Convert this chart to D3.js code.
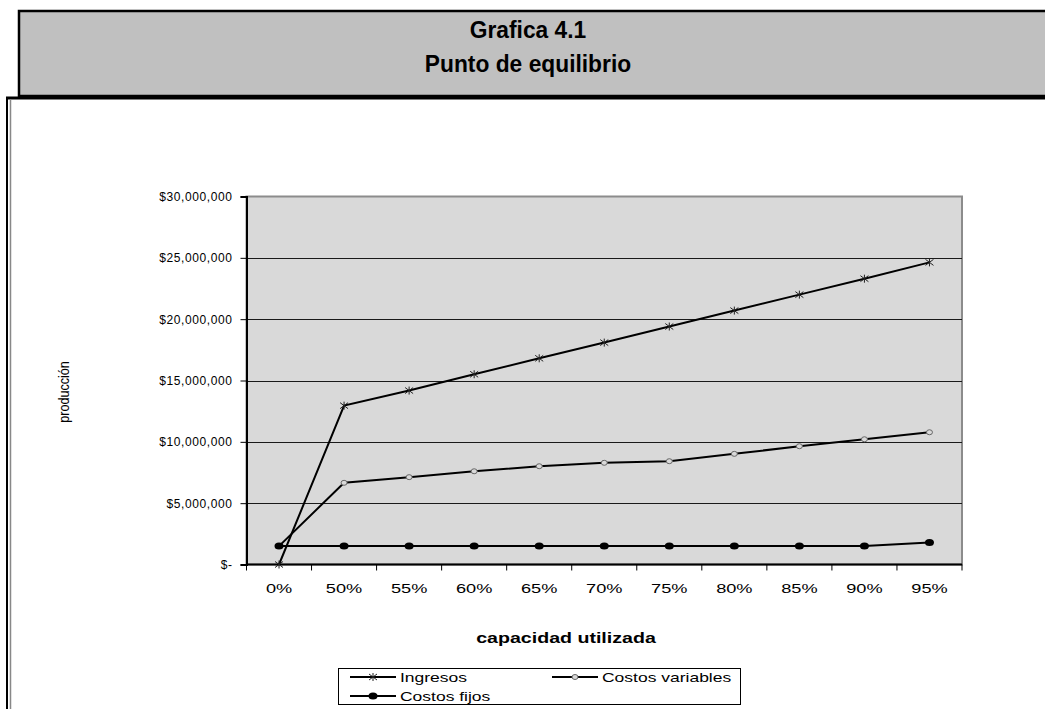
<!DOCTYPE html>
<html>
<head>
<meta charset="utf-8">
<script src="https://cdn.jsdelivr.net/npm/d3@7"></script>
<style>
  body { margin: 0; background: #fff; }
  svg { display: block; font-family: "Liberation Sans", Arial, sans-serif; }
</style>
</head>
<body>
<div id="grafica"></div>
<script>
// datos
const categorias = ["0%", "50%", "55%", "60%", "65%", "70%", "75%", "80%", "85%", "90%", "95%"];
const ingresos = [0, 12950000, 14180000, 15510000, 16810000, 18090000, 19400000, 20700000, 22000000, 23300000, 24630000];
const costosVariables = [1500000, 6660000, 7120000, 7600000, 8010000, 8290000, 8420000, 9020000, 9640000, 10210000, 10780000];
const costosFijos = [1500000, 1500000, 1500000, 1500000, 1500000, 1500000, 1500000, 1500000, 1500000, 1500000, 1790000];
const ticksY = [0, 5000000, 10000000, 15000000, 20000000, 25000000, 30000000];
const nombresSeries = ["Ingresos", "Costos variables", "Costos fijos"];

const estirar = 1.4; // el grafico original esta estirado a lo ancho

function marcador(g, tipo, cx, cy) {
    if (tipo === "Ingresos") {
        g.append("path")
            .attr("d", `M${cx - 4},${cy - 3}L${cx + 4},${cy + 3}M${cx - 4},${cy + 3}L${cx + 4},${cy - 3}M${cx},${cy - 4}L${cx},${cy + 4}`)
            .attr("stroke", "#222").attr("stroke-width", 1).attr("fill", "none");
    } else if (tipo === "Costos variables") {
        g.append("ellipse").attr("cx", cx).attr("cy", cy).attr("rx", 3).attr("ry", 2.5)
            .attr("fill", "#d9d9d9").attr("stroke", "#666").attr("stroke-width", 1);
    } else {
        g.append("ellipse").attr("cx", cx).attr("cy", cy).attr("rx", 4.5).attr("ry", 3.5)
            .attr("fill", "#000");
    }
}

function dibujarGrafica() {
    const width = 1045, height = 709;

    d3.select("#grafica svg").remove();
    const svg = d3.select("#grafica")
        .append("svg")
        .attr("width", width)
        .attr("height", height);

    // encabezado gris
    svg.append("rect")
        .attr("x", 19).attr("y", 11)
        .attr("width", width + 10).attr("height", 85)
        .attr("fill", "#c0c0c0").attr("stroke", "#000").attr("stroke-width", 2.5);

    svg.append("text")
        .attr("transform", "translate(528,38) scale(0.95,1)")
        .attr("text-anchor", "middle")
        .attr("font-size", 24).attr("font-weight", "bold")
        .text("Grafica 4.1");
    svg.append("text")
        .attr("transform", "translate(528,72) scale(0.95,1)")
        .attr("text-anchor", "middle")
        .attr("font-size", 24).attr("font-weight", "bold")
        .text("Punto de equilibrio");

    // marco inferior
    svg.append("line").attr("x1", 6).attr("x2", width).attr("y1", 98).attr("y2", 98)
        .attr("stroke", "#000").attr("stroke-width", 3);
    svg.append("line").attr("x1", 7).attr("x2", 7).attr("y1", 97).attr("y2", height)
        .attr("stroke", "#000").attr("stroke-width", 2);
    svg.append("line").attr("x1", 10.5).attr("x2", 10.5).attr("y1", 99).attr("y2", height)
        .attr("stroke", "#888").attr("stroke-width", 1.5);

    const margen = { left: 246.5, right: 962, top: 196.5, bottom: 564.5 };

    const x = d3.scaleBand()
        .domain(categorias)
        .range([margen.left, margen.right])
        .padding(0);

    const y = d3.scaleLinear()
        .domain([0, 30000000])
        .range([margen.bottom, margen.top]);

    const cx = d => x(d) + x.bandwidth() / 2;

    // area de trazado
    svg.append("rect")
        .attr("x", margen.left).attr("y", margen.top)
        .attr("width", margen.right - margen.left)
        .attr("height", margen.bottom - margen.top)
        .attr("fill", "#d9d9d9").attr("stroke", "#8c8c8c").attr("stroke-width", 2);

    // lineas de division
    svg.append("g").selectAll("line")
        .data(ticksY.slice(1, -1))
        .enter().append("line")
        .attr("x1", margen.left).attr("x2", margen.right)
        .attr("y1", d => Math.round(y(d)) + 0.5).attr("y2", d => Math.round(y(d)) + 0.5)
        .attr("stroke", "#1a1a1a").attr("stroke-width", 1);

    // eje Y
    const ejeY = svg.append("g")
        .attr("transform", `translate(${margen.left},0)`)
        .call(d3.axisLeft(y).tickValues(ticksY).tickSize(6)
            .tickFormat(d => d === 0 ? "$-" : "$" + d3.format(",")(d)));
    ejeY.select(".domain").attr("stroke", "#000").attr("stroke-width", 2);
    ejeY.selectAll(".tick line").attr("stroke", "#000");
    ejeY.selectAll(".tick text")
        .attr("font-size", 12).attr("fill", "#000")
        .attr("font-family", "Liberation Sans, Arial, sans-serif")
        .attr("letter-spacing", 0.6)
        .attr("x", -14);

    // eje X: marcas entre categorias
    const ejeX = svg.append("g")
        .attr("transform", `translate(0,${margen.bottom})`);
    ejeX.append("line")
        .attr("x1", margen.left).attr("x2", margen.right)
        .attr("stroke", "#000").attr("stroke-width", 2);
    ejeX.selectAll("line.marca")
        .data(categorias.concat(["fin"]))
        .enter().append("line")
        .attr("class", "marca")
        .attr("x1", (d, i) => i < categorias.length ? x(d) : margen.right)
        .attr("x2", (d, i) => i < categorias.length ? x(d) : margen.right)
        .attr("y1", 0).attr("y2", 6)
        .attr("stroke", "#000");
    ejeX.selectAll("text")
        .data(categorias)
        .enter().append("text")
        .attr("transform", d => `translate(${cx(d)},28) scale(${estirar},1)`)
        .attr("text-anchor", "middle")
        .attr("font-size", 13)
        .text(d => d);

    // titulos de ejes
    svg.append("text")
        .attr("transform", `translate(566,643) scale(${estirar},1)`)
        .attr("text-anchor", "middle")
        .attr("font-size", 14).attr("font-weight", "bold")
        .text("capacidad utilizada");
    svg.append("text")
        .attr("transform", "translate(69,392) rotate(-90) scale(0.9,1)")
        .attr("text-anchor", "middle")
        .attr("font-size", 14)
        .text("producción");

    // series
    const datosSeries = [ingresos, costosVariables, costosFijos];
    const linea = d3.line()
        .x((d, i) => cx(categorias[i]))
        .y(d => y(d));

    datosSeries.forEach((valores, k) => {
        const g = svg.append("g");
        g.append("path")
            .datum(valores)
            .attr("d", linea)
            .attr("fill", "none")
            .attr("stroke", "#000")
            .attr("stroke-width", 2);
        valores.forEach((v, i) => marcador(g, nombresSeries[k], cx(categorias[i]), y(v)));
    });

    // leyenda
    const leyenda = svg.append("g");
    leyenda.append("rect")
        .attr("x", 338.5).attr("y", 668.5)
        .attr("width", 402).attr("height", 36)
        .attr("fill", "#fff").attr("stroke", "#000");
    const posLeyenda = [[350, 677], [552, 677], [350, 696]];
    nombresSeries.forEach((nombre, k) => {
        const [lx, ly] = posLeyenda[k];
        leyenda.append("line")
            .attr("x1", lx).attr("x2", lx + 46)
            .attr("y1", ly).attr("y2", ly)
            .attr("stroke", "#000").attr("stroke-width", 2);
        marcador(leyenda, nombre, lx + 23, ly);
        leyenda.append("text")
            .attr("transform", `translate(${lx + 50},${ly + 4.5}) scale(${estirar},1)`)
            .attr("font-size", 12.5)
            .text(nombre);
    });
}

dibujarGrafica();
</script>
</body>
</html>
